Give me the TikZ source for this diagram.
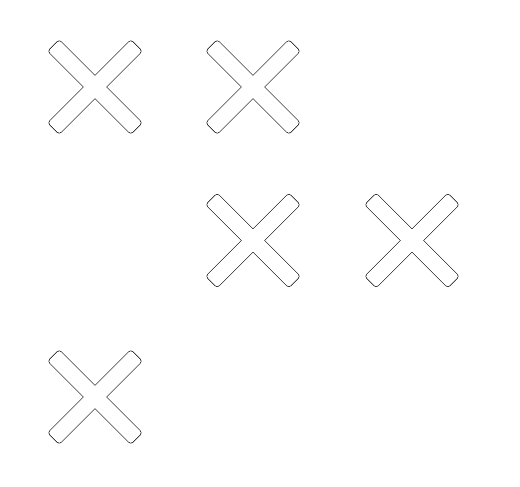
\documentclass[tikz,border=0pt]{standalone}
\begin{document}
\begin{tikzpicture}[x=1pt,y=1pt,
  crossline/.style={draw=black, line width=1.3pt, rounded corners=2.5pt},
  crossfill/.style={fill=white, rounded corners=2.5pt},
  pics/crossmark/.style={code={
    \path[crossline,rotate=45] (-58.4,-7.8) rectangle (58.4,7.8);
    \path[crossline,rotate=-45] (-58.4,-7.8) rectangle (58.4,7.8);
    \path[crossfill,rotate=45] (-58.4,-7.8) rectangle (58.4,7.8);
    \path[crossfill,rotate=-45] (-58.4,-7.8) rectangle (58.4,7.8);
  }}]
\fill[white] (0,0) rectangle (520,487);
\useasboundingbox (0,0) rectangle (520,487);
\pic at (95,400) {crossmark};
\pic at (253,400) {crossmark};
\pic at (253,246.5) {crossmark};
\pic at (412,246.5) {crossmark};
\pic at (95,90) {crossmark};
\end{tikzpicture}
\end{document}
